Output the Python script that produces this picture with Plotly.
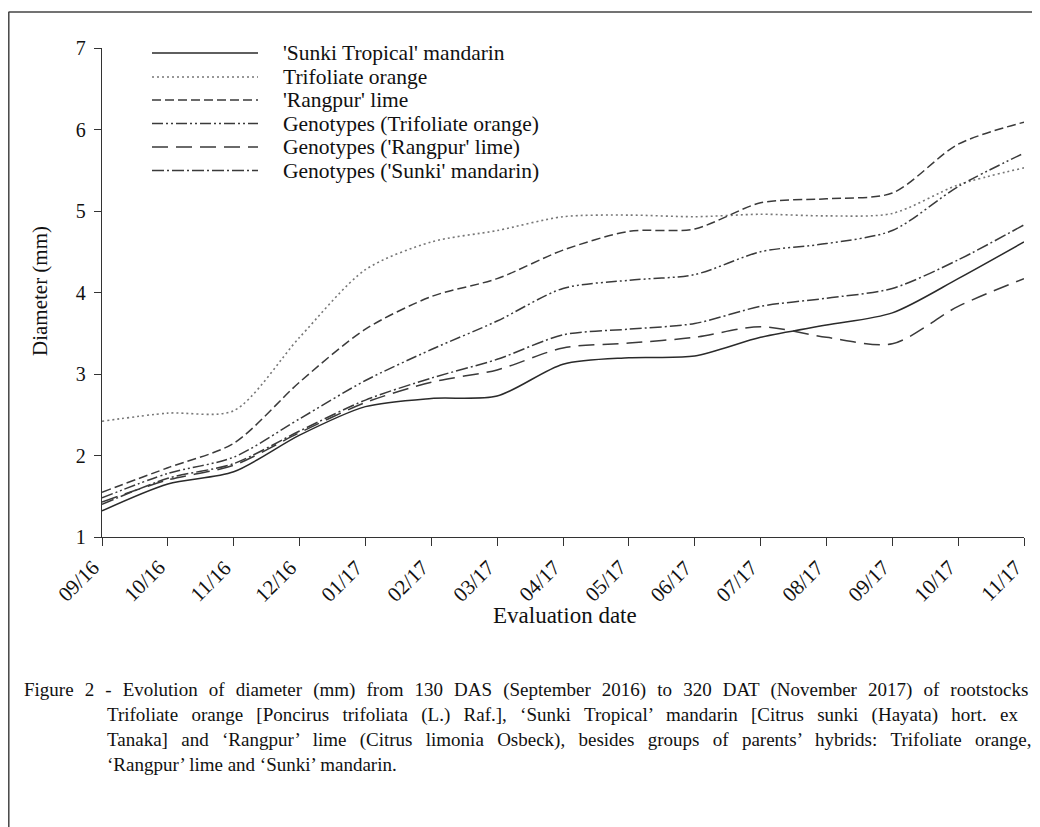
import plotly.graph_objects as go

dates = ["09/16", "10/16", "11/16", "12/16", "01/17", "02/17", "03/17", "04/17",
         "05/17", "06/17", "07/17", "08/17", "09/17", "10/17", "11/17"]

sunki_tropical = [1.32, 1.65, 1.80, 2.25, 2.60, 2.70, 2.73, 3.12, 3.20, 3.22, 3.45, 3.60, 3.75, 4.17, 4.62]
trifoliate = [2.42, 2.52, 2.55, 3.45, 4.28, 4.62, 4.76, 4.93, 4.95, 4.93, 4.96, 4.94, 4.97, 5.32, 5.53]
rangpur = [1.55, 1.85, 2.15, 2.90, 3.55, 3.95, 4.17, 4.52, 4.75, 4.78, 5.10, 5.15, 5.22, 5.82, 6.09]
gen_trifoliate = [1.48, 1.78, 1.98, 2.45, 2.92, 3.30, 3.65, 4.05, 4.15, 4.22, 4.50, 4.60, 4.76, 5.30, 5.71]
gen_rangpur = [1.43, 1.70, 1.88, 2.28, 2.65, 2.90, 3.05, 3.32, 3.38, 3.45, 3.58, 3.45, 3.37, 3.83, 4.17]
gen_sunki = [1.40, 1.72, 1.90, 2.30, 2.68, 2.95, 3.18, 3.48, 3.55, 3.62, 3.83, 3.93, 4.05, 4.40, 4.83]

names = ["'Sunki Tropical' mandarin", "Trifoliate orange", "'Rangpur' lime",
         "Genotypes (Trifoliate orange)", "Genotypes ('Rangpur' lime)", "Genotypes ('Sunki' mandarin)"]
series = [sunki_tropical, trifoliate, rangpur, gen_trifoliate, gen_rangpur, gen_sunki]
dashes = ["solid", "2px,3px", "9px,4px", "11px,3px,2px,3px,2px,3px", "16px,8px", "12px,3px,2px,3px"]
colors = ["#2a2a2a", "#777777", "#3a3a3a", "#3a3a3a", "#3a3a3a", "#3a3a3a"]
widths = [1.5, 1.6, 1.5, 1.5, 1.5, 1.5]

SERIF = "Liberation Serif"

fig = go.Figure()
xs = list(range(len(dates)))
for name, ys, d, c, w in zip(names, series, dashes, colors, widths):
    fig.add_trace(go.Scatter(x=xs, y=ys, mode="lines", name=name,
                             line=dict(color=c, dash=d, width=w, shape="spline", smoothing=0.8),
                             showlegend=False))

# page body has an 8px margin: figure drawn at screen offset (8, 8)
OFF = 8
L, R, T, B = 102, 1024, 48, 537          # plot area in screen pixels
W, H = 1040 - OFF, 827 - OFF              # figure size
def px(x):
    return (x - L) / (R - L)
def py(y):
    return (B - y) / (B - T)

shapes = []
annotations = []
# legend (custom, long line samples)
leg_rows = [53, 77, 100, 123.5, 147, 170.5]
for yy, name, d, c, w in zip(leg_rows, names, dashes, colors, widths):
    shapes.append(dict(type="line", xref="paper", yref="paper", x0=px(152), x1=px(258),
                       y0=py(yy), y1=py(yy), line=dict(color=c, dash=d, width=w)))
    annotations.append(dict(xref="paper", yref="paper", x=px(281), y=py(yy), text=name,
                            showarrow=False, xanchor="left", yanchor="middle",
                            font=dict(family=SERIF, size=21.5, color="#111")))

# rotated category labels placed at each category position
for i, lab in enumerate(dates):
    annotations.append(dict(xref="x", yref="paper", x=xs[i], y=py(553), text=lab,
                            showarrow=False, xanchor="right", yanchor="top", textangle=-45,
                            xshift=5,
                            font=dict(family=SERIF, size=21, color="#111")))

# frame
shapes.append(dict(type="line", xref="paper", yref="paper", x0=px(8.5), x1=px(1045),
                   y0=py(12), y1=py(12), line=dict(color="#444", width=1.5)))
shapes.append(dict(type="line", xref="paper", yref="paper", x0=px(8.8), x1=px(8.8),
                   y0=py(12), y1=py(830), line=dict(color="#444", width=1.5)))

def justify(text, extra):
    return text.replace(" ", " " + extra)

caption = [
    (22, 690, justify("Figure 2 - Evolution of diameter (mm) from 130 DAS (September 2016) to 320 DAT (November 2017) of rootstocks", "\u00a0\u200a")),
    (105, 715, justify("Trifoliate orange [Poncirus trifoliata (L.) Raf.], \u2018Sunki Tropical\u2019 mandarin [Citrus sunki (Hayata) hort. ex", "\u00a0\u2009")),
    (105, 740, justify("Tanaka] and \u2018Rangpur\u2019 lime (Citrus limonia Osbeck), besides groups of parents\u2019 hybrids: Trifoliate orange,", "\u00a0\u2009")),
    (105, 764, "\u2018Rangpur\u2019 lime and \u2018Sunki\u2019 mandarin."),
]
for x, y, t in caption:
    annotations.append(dict(xref="paper", yref="paper", x=px(x), y=py(y), text=t,
                            showarrow=False, xanchor="left", yanchor="middle",
                            font=dict(family=SERIF, size=19, color="#111")))

annotations.append(dict(xref="paper", yref="paper", x=px(565), y=py(615), text="Evaluation date",
                        showarrow=False, xanchor="center", yanchor="middle",
                        font=dict(family=SERIF, size=23, color="#111")))
annotations.append(dict(xref="paper", yref="paper", x=px(40), y=py(291), text="Diameter (mm)",
                        showarrow=False, xanchor="center", yanchor="middle", textangle=-90,
                        font=dict(family=SERIF, size=21, color="#111")))

fig.update_layout(
    width=W, height=H,
    margin=dict(l=L - OFF, r=W - (R - OFF), t=T - OFF, b=H - (B - OFF), pad=0),
    paper_bgcolor="white", plot_bgcolor="white",
    shapes=shapes, annotations=annotations,
    xaxis=dict(range=[0, 14], tickmode="array", tickvals=xs, showticklabels=False,
               automargin=False,
               showgrid=False, zeroline=False, showline=True, linecolor="#333", linewidth=1.3,
               ticks="outside", ticklen=8, tickcolor="#333"),
    yaxis=dict(range=[1, 7], tickvals=[1, 2, 3, 4, 5, 6, 7], showgrid=False, zeroline=False,
               automargin=False,
               showline=True, linecolor="#333", linewidth=1.3,
               ticks="outside", ticklen=7, tickcolor="#333", ticklabelstandoff=4,
               tickfont=dict(family=SERIF, size=20, color="#111")),
)

fig.write_html("out.html")
